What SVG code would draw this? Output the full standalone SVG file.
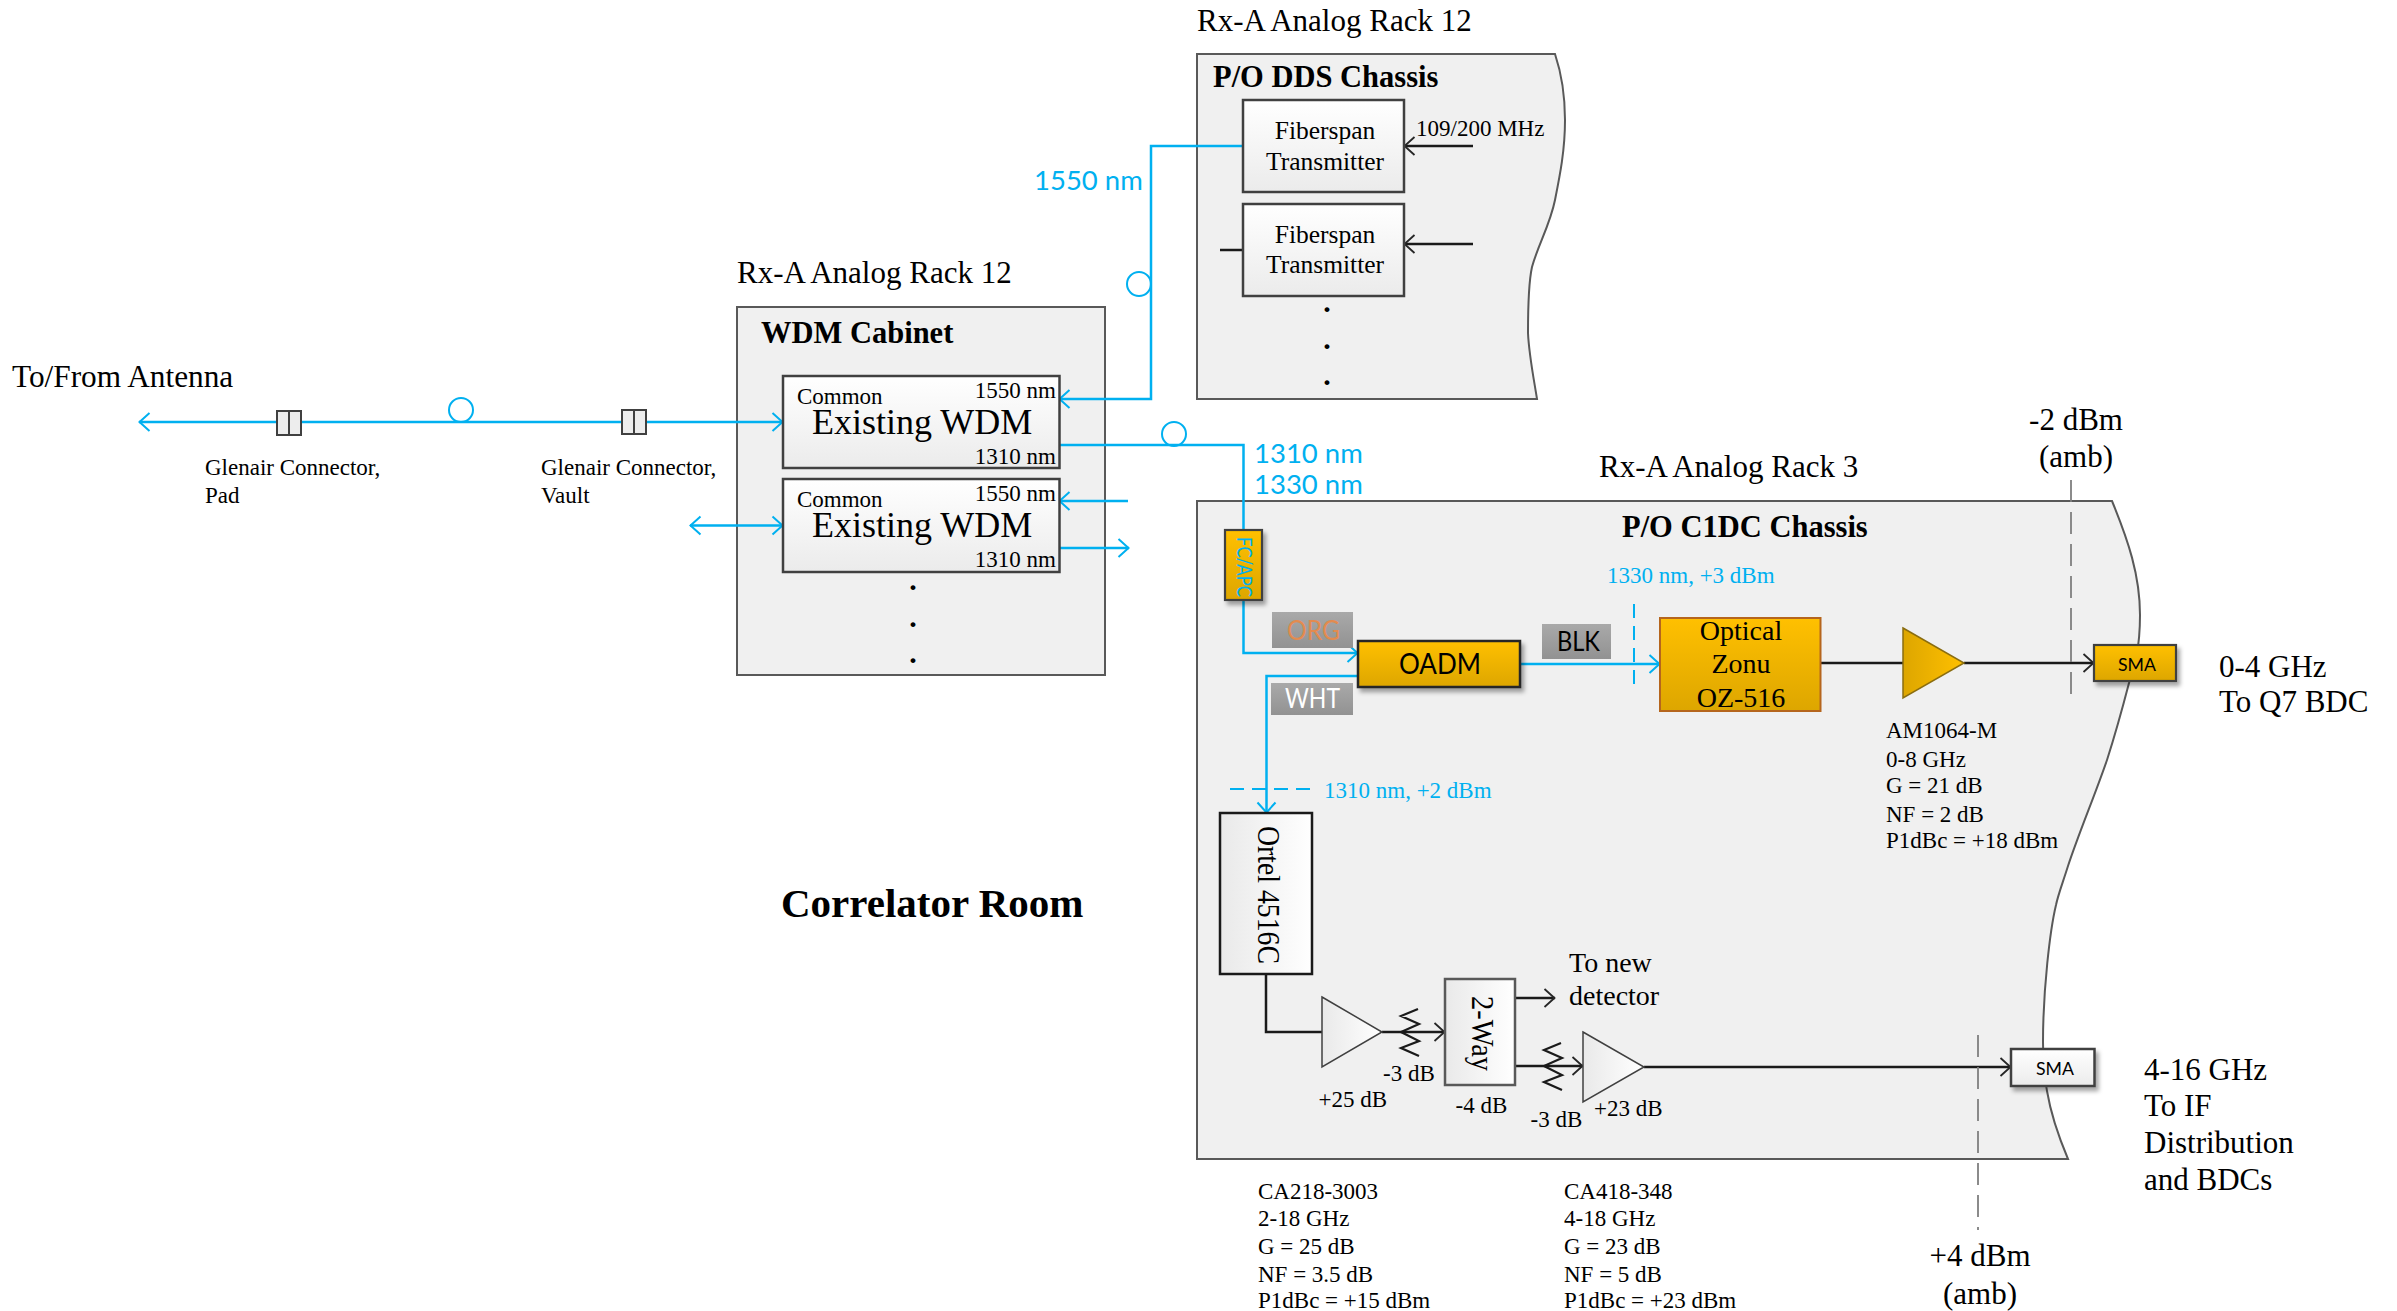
<svg xmlns="http://www.w3.org/2000/svg" width="2397" height="1311" viewBox="0 0 2397 1311">
<defs>
<style>
text{font-family:"Liberation Serif","Times New Roman",serif;fill:#000}
.t30{font-size:31px}.t28{font-size:28px}.t25{font-size:25.5px}.t23{font-size:23px}
.b{font-weight:bold;font-size:30.5px}
.m{text-anchor:middle}
.bl{font-family:Lato,"Open Sans",sans-serif;fill:#00b0f0;font-size:27.5px}
.blt{fill:#00b0f0;font-size:23px}
.s{font-family:Lato,"Open Sans",sans-serif}
.panel{fill:#f0f0f0;stroke:#595959;stroke-width:2}
.box{fill:url(#gw);stroke:#404040;stroke-width:2.5}
.org{fill:url(#go);stroke:#262626;stroke-width:2.5}
.orgs{fill:url(#go);stroke:#404040;stroke-width:2.2}
.sh{filter:url(#ds)}
.fib{fill:none;stroke:#00b0f0;stroke-width:2.5}
.loop{fill:none;stroke:#00b0f0;stroke-width:2}
.wire{fill:none;stroke:#1a1a1a;stroke-width:2.5}
.zig{fill:none;stroke:#1a1a1a;stroke-width:2.2}
.gray{fill:none;stroke:#7f7f7f;stroke-width:1.8;stroke-dasharray:22 10}
.bdash{fill:none;stroke:#00b0f0;stroke-width:2;stroke-dasharray:14 8}
.tag{fill:url(#gg)}
.dot{font-weight:bold;font-size:30px;text-anchor:middle}
</style>
<linearGradient id="gw" x1="0" y1="0" x2="0" y2="1"><stop offset="0" stop-color="#fff"/><stop offset="1" stop-color="#ebebeb"/></linearGradient>
<linearGradient id="go" x1="0" y1="0" x2="0" y2="1"><stop offset="0" stop-color="#ffc000"/><stop offset="1" stop-color="#dda600"/></linearGradient>
<linearGradient id="gg" x1="0" y1="0" x2="0" y2="1"><stop offset="0" stop-color="#a9a9a9"/><stop offset="1" stop-color="#929292"/></linearGradient>
<linearGradient id="gt" x1="0" y1="0" x2="1" y2="0"><stop offset="0" stop-color="#dda600"/><stop offset="1" stop-color="#ffc000"/></linearGradient>
<linearGradient id="gtw" x1="0" y1="0" x2="1" y2="0"><stop offset="0" stop-color="#e9e9e9"/><stop offset="1" stop-color="#fff"/></linearGradient>
<filter id="ds" x="-20%" y="-20%" width="140%" height="150%"><feDropShadow dx="3" dy="4" stdDeviation="2" flood-color="#000" flood-opacity="0.35"/></filter>
<marker id="ab" markerUnits="userSpaceOnUse" markerWidth="14" markerHeight="22" refX="11" refY="10" orient="auto-start-reverse" overflow="visible"><path d="M0.5 1L10.5 10L0.5 19" fill="none" stroke="#00b0f0" stroke-width="2"/></marker>
<marker id="ak" markerUnits="userSpaceOnUse" markerWidth="14" markerHeight="22" refX="11" refY="10" orient="auto-start-reverse" overflow="visible"><path d="M0.5 1L10.5 10L0.5 19" fill="none" stroke="#262626" stroke-width="1.8"/></marker>
</defs>
<rect width="2397" height="1311" fill="#fff"/>

<g id="wdm-cabinet">
<rect class="panel" x="737" y="307" width="368" height="368"/>
<text class="b" x="761" y="343">WDM Cabinet</text>
<text class="t30" x="737" y="283">Rx-A Analog Rack 12</text>
<text class="dot" x="913" y="590">.</text>
<text class="dot" x="913" y="627">.</text>
<text class="dot" x="913" y="663">.</text>
</g>
<g id="dds-chassis">
<path class="panel" d="M1197 54H1555C1562 75 1565 95 1565 120C1565 150 1560 175 1555 200C1550 225 1538 245 1532 267C1528 285 1528 310 1528 333C1529 355 1534 380 1537 399H1197Z"/>
<text class="t30" x="1197" y="31">Rx-A Analog Rack 12</text>
<text class="b" x="1213" y="87">P/O DDS Chassis</text>
<text class="dot" x="1327" y="312">.</text>
<text class="dot" x="1327" y="349">.</text>
<text class="dot" x="1327" y="385">.</text>
<text class="t23" x="1416" y="136">109/200 MHz</text>
</g>
<g id="c1dc-chassis">
<path class="panel" d="M1197 501H2112C2128 540 2140 575 2140 615C2140 650 2134 668 2129 683C2122 710 2115 735 2107 760C2095 795 2080 830 2068 866C2062 885 2058 895 2056 905C2050 930 2043 990 2043 1042C2043 1070 2045 1080 2047 1091C2051 1115 2060 1140 2068 1159H1197Z"/>
<text class="t30" x="1599" y="477">Rx-A Analog Rack 3</text>
<text class="b" x="1622" y="537">P/O C1DC Chassis</text>
</g>

<g id="connectors">
<path class="fib" d="M139 422H783" marker-start="url(#ab)" marker-end="url(#ab)"/>
<circle class="loop" cx="461" cy="410" r="12"/>
<path class="fib" d="M690 525.500H783" marker-start="url(#ab)" marker-end="url(#ab)"/>
<path class="fib" d="M1243 146H1151V399H1059" marker-end="url(#ab)"/>
<circle class="loop" cx="1139" cy="284" r="12"/>
<path class="fib" d="M1059 445H1243.500V530"/>
<circle class="loop" cx="1174" cy="434" r="12"/>
<path class="fib" d="M1128 501H1059" marker-end="url(#ab)"/>
<path class="fib" d="M1059 548H1129" marker-end="url(#ab)"/>
<path class="fib" d="M1243.500 600V653H1358" marker-end="url(#ab)"/>
<path class="fib" d="M1358 676H1266.500V813" marker-end="url(#ab)"/>
<path class="fib" d="M1519 664H1660" marker-end="url(#ab)"/>
<path class="wire" d="M1473 146H1404" marker-end="url(#ak)"/>
<path class="wire" d="M1473 244H1404" marker-end="url(#ak)"/>
<path class="wire" d="M1220 250H1243"/>
<path class="wire" d="M1820 663H1903"/>
<path class="wire" d="M1964 663H2094" marker-end="url(#ak)"/>
<path class="wire" d="M1266 974V1032H1322"/>
<path class="wire" d="M1382 1032H1445" marker-end="url(#ak)"/>
<path class="wire" d="M1514 998H1555" marker-end="url(#ak)"/>
<path class="wire" d="M1514 1066H1583" marker-end="url(#ak)"/>
<path class="wire" d="M1644 1067H2011" marker-end="url(#ak)"/>
<path class="zig" d="M1418 1009L1401 1016L1419 1024L1401 1032L1419 1041L1401 1048L1419 1056"/>
<path class="zig" d="M1561 1043L1544 1050L1562 1058L1544 1066L1562 1075L1544 1082L1562 1090"/>
<path class="gray" d="M2071 480V695"/>
<path class="gray" d="M1978 1035V1230"/>
<path class="bdash" d="M1634 604V688"/>
<path class="bdash" d="M1230 789H1314"/>
</g>

<g id="connector-pad">
<rect x="277" y="411" width="24" height="24" fill="#ededed" stroke="#404040" stroke-width="2"/><path d="M289 411V435" stroke="#404040" stroke-width="2"/>
<text class="t23" x="205" y="475">Glenair Connector,</text><text class="t23" x="205" y="503">Pad</text>
</g>
<g id="connector-vault">
<rect x="622" y="410" width="24" height="24" fill="#ededed" stroke="#404040" stroke-width="2"/><path d="M634 410V434" stroke="#404040" stroke-width="2"/>
<text class="t23" x="541" y="475">Glenair Connector,</text><text class="t23" x="541" y="503">Vault</text>
</g>
<g id="wdm-1">
<rect class="box" x="783" y="376" width="276.500" height="92"/>
<text class="t23" x="797" y="404">Common</text>
<text style="font-size:36px" x="812" y="434">Existing WDM</text>
<text class="t23" x="1056" y="398" text-anchor="end">1550 nm</text>
<text class="t23" x="1056" y="464" text-anchor="end">1310 nm</text>
</g>
<g id="wdm-2">
<rect class="box" x="783" y="479" width="276.500" height="93"/>
<text class="t23" x="797" y="507">Common</text>
<text style="font-size:36px" x="812" y="537">Existing WDM</text>
<text class="t23" x="1056" y="501" text-anchor="end">1550 nm</text>
<text class="t23" x="1056" y="567" text-anchor="end">1310 nm</text>
</g>
<g id="fiberspan-1">
<rect class="box" x="1243" y="100" width="161" height="92"/>
<text class="t25 m" x="1325" y="139">Fiberspan</text><text class="t25 m" x="1325" y="170">Transmitter</text>
</g>
<g id="fiberspan-2">
<rect class="box" x="1243" y="204" width="161" height="92"/>
<text class="t25 m" x="1325" y="243">Fiberspan</text><text class="t25 m" x="1325" y="273">Transmitter</text>
</g>
<g id="fc-apc">
<rect class="orgs sh" x="1225" y="530" width="37" height="70"/>
<text class="s" transform="translate(1237 537) rotate(90)" textLength="60" lengthAdjust="spacingAndGlyphs" style="font-size:22px;fill:#00b0f0">FC/APC</text>
</g>
<g id="oadm">
<rect class="org sh" x="1358" y="641" width="162" height="46"/>
<text class="s" x="1399" y="674" textLength="82" lengthAdjust="spacingAndGlyphs" style="font-size:28px">OADM</text>
</g>
<g id="tag-org"><rect class="tag" x="1272" y="612" width="81" height="36"/><text class="s" x="1287" y="640" textLength="53" lengthAdjust="spacingAndGlyphs" style="font-size:27px;fill:#e38b4f">ORG</text></g>
<g id="tag-wht"><rect class="tag" x="1271" y="683" width="82" height="32"/><text class="s" x="1285" y="708" textLength="55" lengthAdjust="spacingAndGlyphs" style="font-size:27px;fill:#fff">WHT</text></g>
<g id="tag-blk"><rect class="tag" x="1542" y="624" width="69" height="35"/><text class="s" x="1557" y="651" textLength="43" lengthAdjust="spacingAndGlyphs" style="font-size:27px">BLK</text></g>
<g id="optical-zonu">
<rect x="1660" y="618" width="160.500" height="93" fill="url(#go)" stroke="#b5651d" stroke-width="2"/>
<text class="t28 m" x="1741" y="640">Optical</text><text class="t28 m" x="1741" y="673">Zonu</text><text class="t28 m" x="1741" y="707">OZ-516</text>
</g>
<g id="amp-am1064">
<path d="M1903 628L1964 663L1903 698Z" fill="url(#gt)" stroke="#8a6d10" stroke-width="1.500"/>
<text class="t23" x="1886" y="738">AM1064-M</text><text class="t23" x="1886" y="767">0-8 GHz</text><text class="t23" x="1886" y="793">G = 21 dB</text><text class="t23" x="1886" y="822">NF = 2 dB</text><text class="t23" x="1886" y="848">P1dBc = +18 dBm</text>
</g>
<g id="sma-1">
<rect class="orgs sh" x="2094" y="645" width="82" height="36"/>
<text class="s" x="2118" y="671" textLength="38" lengthAdjust="spacingAndGlyphs" style="font-size:18px">SMA</text>
</g>
<g id="ortel">
<rect x="1220" y="813" width="92" height="161" fill="url(#gtw)" stroke="#1a1a1a" stroke-width="2.500"/>
<text transform="translate(1258 826) rotate(90)" textLength="138" lengthAdjust="spacingAndGlyphs" style="font-size:30.500px">Ortel 4516C</text>
</g>
<g id="amp-ca218">
<path d="M1322 997L1382 1032L1322 1067Z" fill="url(#gtw)" stroke="#404040" stroke-width="1.500"/>
<text class="t23" x="1318.500" y="1107">+25 dB</text>
<text class="t23" x="1383" y="1081">-3 dB</text>
<text class="t23" x="1258" y="1199">CA218-3003</text><text class="t23" x="1258" y="1226">2-18 GHz</text><text class="t23" x="1258" y="1254">G = 25 dB</text><text class="t23" x="1258" y="1282">NF = 3.5 dB</text><text class="t23" x="1258" y="1308">P1dBc = +15 dBm</text>
</g>
<g id="two-way">
<rect x="1445" y="979" width="70" height="106" fill="url(#gtw)" stroke="#595959" stroke-width="2.500"/>
<text transform="translate(1472 996) rotate(90)" textLength="75" lengthAdjust="spacingAndGlyphs" style="font-size:31px">2-Way</text>
<text class="t23" x="1455.500" y="1113">-4 dB</text>
</g>
<g id="amp-ca418">
<path d="M1583 1032L1644 1067L1583 1102Z" fill="url(#gtw)" stroke="#404040" stroke-width="1.500"/>
<text class="t23" x="1594" y="1116">+23 dB</text>
<text class="t23" x="1530.500" y="1127">-3 dB</text>
<text class="t23" x="1564" y="1199">CA418-348</text><text class="t23" x="1564" y="1226">4-18 GHz</text><text class="t23" x="1564" y="1254">G = 23 dB</text><text class="t23" x="1564" y="1282">NF = 5 dB</text><text class="t23" x="1564" y="1308">P1dBc = +23 dBm</text>
</g>
<g id="sma-2">
<rect class="box sh" x="2011" y="1049" width="83.500" height="37"/>
<text class="s" x="2036" y="1075" textLength="38" lengthAdjust="spacingAndGlyphs" style="font-size:18px">SMA</text>
</g>
<g id="labels">
<text x="12" y="387" style="font-size:31.300px">To/From Antenna</text>
<text class="bl" x="1034" y="190">1550 nm</text>
<text class="bl" x="1254" y="463">1310 nm</text>
<text class="bl" x="1254" y="494">1330 nm</text>
<text class="blt" x="1607" y="583">1330 nm, +3 dBm</text>
<text class="blt" x="1324" y="798">1310 nm, +2 dBm</text>
<text class="t30 m" x="2076" y="430">-2 dBm</text>
<text class="t30 m" x="2076" y="467">(amb)</text>
<text class="t30" x="2219" y="677">0-4 GHz</text>
<text class="t30" x="2219" y="712">To Q7 BDC</text>
<text class="t28" x="1569" y="972">To new</text>
<text class="t28" x="1569" y="1005">detector</text>
<text class="t30" x="2144" y="1080">4-16 GHz</text>
<text class="t30" x="2144" y="1116">To IF</text>
<text class="t30" x="2144" y="1153">Distribution</text>
<text class="t30" x="2144" y="1190">and BDCs</text>
<text class="t30 m" x="1980" y="1266">+4 dBm</text>
<text class="t30 m" x="1980" y="1304">(amb)</text>
<text x="781" y="917" style="font-size:41px;font-weight:bold">Correlator Room</text>
</g>
</svg>
